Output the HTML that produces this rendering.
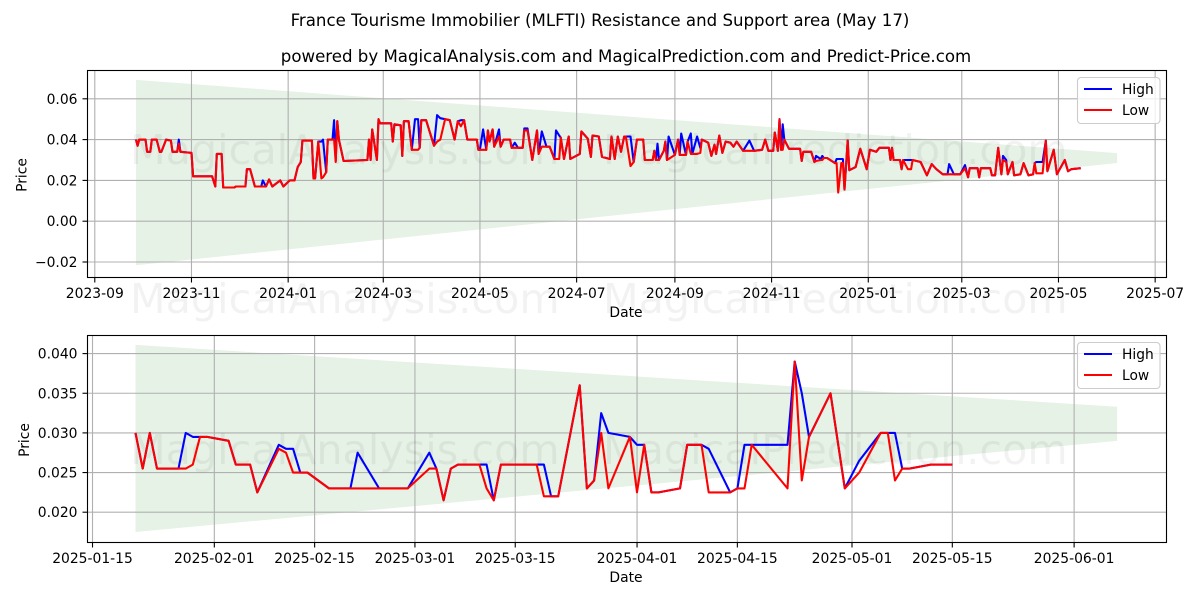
<!DOCTYPE html>
<html>
<head>
<meta charset="utf-8">
<title>France Tourisme Immobilier (MLFTI) Resistance and Support area</title>
<style>
html,body{margin:0;padding:0;background:#fff;}
svg{display:block;font-family:"DejaVu Sans","Liberation Sans",sans-serif;}
</style>
</head>
<body>
<svg id="chart" xmlns="http://www.w3.org/2000/svg" width="1200" height="600" viewBox="0 0 1200 600">
<rect width="1200" height="600" fill="#fff"/>
<g id="top-under"></g>
<g id="bottom-under"></g>
<g font-size="41.3" fill="#000" fill-opacity="0.05">
<text x="130" y="164">MagicalAnalysis.com</text>
<text x="603" y="164">MagicalPrediction.com</text>
<text x="130" y="313">MagicalAnalysis.com</text>
<text x="603" y="313">MagicalPrediction.com</text>
<text x="130" y="464">MagicalAnalysis.com</text>
<text x="603" y="464">MagicalPrediction.com</text>
</g>
<g id="top-marks"></g>
<g id="bottom-marks"></g>
<rect x="87.5" y="70.5" width="1079" height="207" fill="none" stroke="#000" stroke-width="1.1"/>
<rect x="87.5" y="335.5" width="1079" height="207" fill="none" stroke="#000" stroke-width="1.1"/>
<g id="top-ticks"></g>
<g id="bottom-ticks"></g>
<text x="600" y="26" font-size="16.63" text-anchor="middle">France Tourisme Immobilier (MLFTI) Resistance and Support area (May 17)</text>
<text x="626" y="62" font-size="16.63" text-anchor="middle">powered by MagicalAnalysis.com and MagicalPrediction.com and Predict-Price.com</text>
<text x="626" y="317" font-size="13.89" text-anchor="middle">Date</text>
<text x="626" y="582" font-size="13.89" text-anchor="middle">Date</text>
<text transform="translate(26.5,175) rotate(-90)" font-size="13.89" text-anchor="middle">Price</text>
<text transform="translate(29,440) rotate(-90)" font-size="13.89" text-anchor="middle">Price</text>
<g>
<rect x="1077.5" y="77.5" width="82.5" height="46" rx="3.5" fill="#fff" fill-opacity="0.8" stroke="#ccc" stroke-width="1.1"/>
<line x1="1084" x2="1112" y1="89" y2="89" stroke="#0000ff" stroke-width="2.08"/>
<text x="1122" y="94" font-size="13.8">High</text>
<line x1="1084" x2="1112" y1="110" y2="110" stroke="#ff0000" stroke-width="2.08"/>
<text x="1122" y="115" font-size="13.8">Low</text>
</g>
<g>
<rect x="1077.5" y="342.5" width="82.5" height="46" rx="3.5" fill="#fff" fill-opacity="0.8" stroke="#ccc" stroke-width="1.1"/>
<line x1="1084" x2="1112" y1="354" y2="354" stroke="#0000ff" stroke-width="2.08"/>
<text x="1122" y="359" font-size="13.8">High</text>
<line x1="1084" x2="1112" y1="375" y2="375" stroke="#ff0000" stroke-width="2.08"/>
<text x="1122" y="380" font-size="13.8">Low</text>
</g>
</svg>
<script>
/* ---------- top chart data (days after 2023-09-27) ---------- */
const topDays = [
0,1,2,6,7,9,10,13,15,16,19,22,23,26,27,28,35,36,48,50,
51,54,55,62,63,69,70,72,75,79,80,82,84,86,91,93,97,100,102,104,
105,111,112,113,115,117,118,120,121,124,125,126,127,128,131,146,147,148,149,152,
153,154,161,162,163,167,168,169,172,174,176,178,179,180,183,188,190,192,195,198,
201,203,205,207,
209,215,216,217,219,221,222,223,225,226,229,230,232,236,237,239,241,244,245,247,
250,253,254,256,259,261,264,265,267,268,270,273,274,280,281,285,287,288,292,294,
299,300,302,304,306,308,309,312,314,316,320,321,326,327,328,329,330,333,334,335,
336,340,342,343,344,347,348,350,351,354,356,357,361,363,365,366,368,370,372,375,
377,379,383,387,390,395,397,399,402,403,405,
406,407,408,409,412,419,420,421,426,428,429,432,
433,434,436,441,442,443,445,446,447,449,450,454,457,461,463,467,469,475,476,477,
478,482,483,484,487,489,490,495,499,502,505,509,512,513,516,520,523,525,526,531,
532,533,539,540,542,544,546,547,549,550,553,554,558,560,563,566,567,568,572,574,
575,579,581,586,588,590,596];
const topLow = [
.040,.037,.040,.040,.034,.034,.040,.040,.034,.034,.040,.0395,.034,.034,.038,.034,.0335,.022,.022,.017,
.033,.033,.0165,.0165,.017,.017,.0255,.0255,.017,.017,.017,.017,.0205,.017,.020,.017,.020,.020,.0265,.029,
.0395,.0395,.021,.021,.039,.021,.0215,.024,.040,.040,.040,.029,.049,.040,.0295,.030,.040,.030,.045,.030,
.050,.048,.048,.039,.0475,.047,.032,.049,.049,.035,.035,.035,.036,.0495,.0495,.037,.039,.040,.050,.0495,
.040,.049,.0465,.0495,
.040,.040,.035,.035,.035,.035,.0445,.039,.045,.0365,.0415,.0365,.040,.040,.036,.036,.036,.036,.0445,.0445,
.030,.0445,.033,.0365,.0365,.0365,.0305,.0305,.0305,.041,.0305,.0415,.0305,.033,.044,.0405,.0315,.042,.0415,.0315,
.0305,.0415,.0305,.0415,.034,.0415,.0415,.027,.029,.040,.040,.030,.030,.0345,.030,.030,.030,.0345,.039,.030,
.0305,.0325,.040,.0325,.0325,.0325,.039,.033,.033,.033,.0335,.040,.0385,.032,.0375,.033,.042,.0335,.039,.0385,
.0365,.039,.0345,.0345,.0345,.035,.040,.0345,.0345,.0435,.0345,
.050,.035,.035,.040,.0355,.0355,.0295,.034,.034,.029,.0295,.030,
.030,.031,.031,.0285,.0285,.014,.0285,.0285,.0155,.0395,.025,.0265,.0355,.0255,.035,.034,.036,.036,.030,.036,
.030,.030,.0255,.030,.0255,.0255,.030,.029,.0225,.028,.0255,.023,.023,.023,.023,.023,.026,.0215,.026,.026,
.0215,.026,.026,.0225,.0225,.036,.023,.030,.029,.023,.029,.0225,.023,.0285,.0225,.023,.0285,.0235,.0235,.0395,
.0245,.035,.023,.030,.0245,.0255,.026];
const topHigh = [
.040,.037,.040,.040,.034,.034,.040,.040,.034,.034,.040,.0395,.034,.034,.040,.034,.0335,.022,.022,.017,
.033,.033,.0165,.0165,.017,.017,.0255,.0255,.017,.017,.020,.017,.0205,.017,.020,.017,.020,.020,.0265,.029,
.0395,.0395,.021,.021,.039,.039,.040,.024,.040,.040,.0495,.0295,.049,.040,.0295,.030,.040,.030,.045,.030,
.050,.048,.048,.039,.0475,.047,.032,.049,.049,.035,.050,.050,.036,.0495,.0495,.037,.052,.0505,.050,.0495,
.040,.049,.0495,.0495,
.040,.040,.035,.035,.045,.035,.0445,.039,.045,.0365,.045,.0365,.040,.040,.036,.0385,.036,.036,.0455,.0455,
.030,.0445,.033,.044,.0365,.0365,.0305,.0445,.042,.041,.0305,.0415,.0305,.033,.044,.0405,.0315,.042,.0415,.0315,
.0305,.0415,.0305,.0415,.034,.0415,.0415,.0415,.029,.040,.040,.030,.030,.0345,.030,.038,.030,.0345,.039,.030,
.0415,.0325,.040,.0325,.043,.0325,.039,.043,.033,.0415,.036,.040,.0385,.032,.0375,.033,.042,.0335,.039,.0385,
.0365,.039,.0345,.0395,.0345,.035,.040,.0345,.0345,.0435,.0345,
.050,.035,.0475,.040,.0355,.0355,.0295,.034,.034,.029,.032,.0305,
.032,.031,.031,.0285,.0305,.0305,.0305,.0305,.0155,.0395,.025,.0265,.0355,.0255,.035,.034,.036,.036,.030,.036,
.030,.030,.0255,.030,.030,.030,.030,.029,.0225,.028,.0255,.023,.023,.028,.023,.023,.0275,.0215,.026,.026,
.0215,.026,.026,.0225,.0225,.036,.023,.032,.030,.023,.029,.0225,.023,.0285,.0225,.023,.0285,.029,.029,.0395,
.0245,.035,.023,.030,.0245,.0255,.026];
const topBandUpper = [.0693,.0334];
const topBandLower = [-.0216,.0285];
const topBandDays = [0,619];
const topStartDate = "2023-09-27";
const topXTickDates = ["2023-09-01","2023-11-01","2024-01-01","2024-03-01","2024-05-01","2024-07-01","2024-09-01","2024-11-01","2025-01-01","2025-03-01","2025-05-01","2025-07-01"];
const topYTicks = [-.02,0,.02,.04,.06];
const topYLabels = ["\u22120.02","0.00","0.02","0.04","0.06"];

/* ---------- bottom chart data ---------- */
const bottomDates = [
"2025-01-21","2025-01-22","2025-01-23","2025-01-24","2025-01-27","2025-01-28","2025-01-29","2025-01-30","2025-01-31",
"2025-02-03","2025-02-04","2025-02-06","2025-02-07","2025-02-10","2025-02-11","2025-02-12","2025-02-13","2025-02-14",
"2025-02-17","2025-02-20","2025-02-21","2025-02-24","2025-02-28",
"2025-03-03","2025-03-04","2025-03-05","2025-03-06","2025-03-07","2025-03-10","2025-03-11","2025-03-12","2025-03-13",
"2025-03-18","2025-03-19","2025-03-20","2025-03-21","2025-03-24","2025-03-25","2025-03-26","2025-03-27","2025-03-28","2025-03-31",
"2025-04-01","2025-04-02","2025-04-03","2025-04-04","2025-04-07","2025-04-08","2025-04-09","2025-04-10","2025-04-11",
"2025-04-14","2025-04-15","2025-04-16","2025-04-17","2025-04-22","2025-04-23","2025-04-24","2025-04-25","2025-04-28","2025-04-30",
"2025-05-02","2025-05-05","2025-05-06","2025-05-07","2025-05-08","2025-05-09","2025-05-12","2025-05-13","2025-05-14","2025-05-15"];
const bottomHigh = [
.030,.0255,.030,.0255,.0255,.030,.0295,.0295,.0295,
.029,.026,.026,.0225,.0285,.028,.028,.025,.025,
.023,.023,.0275,.023,.023,
.0275,.0255,.0215,.0255,.026,.026,.026,.0215,.026,
.026,.026,.022,.022,.036,.023,.024,.0325,.030,.0295,
.0285,.0285,.0225,.0225,.023,.0285,.0285,.0285,.028,
.0225,.023,.0285,.0285,.0285,.039,.035,.0295,.035,.023,
.0265,.030,.030,.030,.0255,.0255,.026,.026,.026,.026];
const bottomLow = [
.030,.0255,.030,.0255,.0255,.0255,.026,.0295,.0295,
.029,.026,.026,.0225,.028,.0275,.025,.025,.025,
.023,.023,.023,.023,.023,
.0255,.0255,.0215,.0255,.026,.026,.023,.0215,.026,
.026,.022,.022,.022,.036,.023,.024,.030,.023,.0295,
.0225,.0285,.0225,.0225,.023,.0285,.0285,.0285,.0225,
.0225,.023,.023,.0285,.023,.039,.024,.0295,.035,.023,
.025,.030,.030,.024,.0255,.0255,.026,.026,.026,.026];
const bottomBandDates = ["2025-01-21","2025-06-07"];
const bottomBandUpper = [.0411,.0333];
const bottomBandLower = [.0175,.0290];
const bottomXTickDates = ["2025-01-15","2025-02-01","2025-02-15","2025-03-01","2025-03-15","2025-04-01","2025-04-15","2025-05-01","2025-05-15","2025-06-01"];
const bottomYTicks = [.02,.025,.03,.035,.04];
const bottomYLabels = ["0.020","0.025","0.030","0.035","0.040"];

/* ---------- axis functions ---------- */
const NS = "http://www.w3.org/2000/svg";
const dayMs = 86400000;
const dayNum = s => Date.parse(s + "T00:00:00Z") / dayMs;
const topStart = dayNum(topStartDate);
const bottomStart = dayNum(bottomBandDates[0]);
const xTop = d => 136 + 1.585 * d;
const yTop = v => 221.2 - 2040 * v;
const xBottom = s => 135.5 + 7.165 * (dayNum(s) - bottomStart);
const yBottom = v => 512.2 - 7930 * (v - .02);

function mk(tag, attrs, parent) {
  const el = document.createElementNS(NS, tag);
  for (const k in attrs) el.setAttribute(k, attrs[k]);
  parent.appendChild(el);
  return el;
}
function drawAxes(under, ticks, prefix, xs, ys, yLabels, xLabels, plotTop, plotBottom) {
  xs.forEach((x, i) => {
    if (x > 87 && x < 1166) {
      const g = mk("line", {x1: x, x2: x, y1: plotTop, y2: plotBottom, stroke: "#b0b0b0", "stroke-width": 1.1}, under);
      
      
    }
    const t = mk("line", {x1: x, x2: x, y1: plotBottom, y2: plotBottom + 5, stroke: "#000", "stroke-width": 1.1}, ticks);
    
    
    const l = mk("text", {x: x, y: plotBottom + 20.5, "font-size": 13.89, "text-anchor": "middle"}, ticks);
    
    
    l.textContent = xLabels[i];
  });
  ys.forEach((y, i) => {
    const g = mk("line", {x1: 87.5, x2: 1166.5, y1: y, y2: y, stroke: "#b0b0b0", "stroke-width": 1.1}, under);
    
    
    const t = mk("line", {x1: 82.5, x2: 87.5, y1: y, y2: y, stroke: "#000", "stroke-width": 1.1}, ticks);
    
    
    const l = mk("text", {x: 77.5, y: y + 5, "font-size": 13.89, "text-anchor": "end"}, ticks);
    
    
    l.textContent = yLabels[i];
  });
}
function pathOf(xs, ys) {
  return xs.map((x, i) => (i ? "L" : "M") + x.toFixed(1) + " " + ys[i].toFixed(1)).join("");
}
function band(parent, name, x0, x1, y0u, y1u, y1l, y0l) {
  const p = mk("polygon", {points: `${x0},${y0u} ${x1},${y1u} ${x1},${y1l} ${x0},${y0l}`, fill: "#008000", "fill-opacity": 0.1}, parent);
  
  
}
function line(parent, name, xs, ys, color) {
  const p = mk("path", {d: pathOf(xs, ys), fill: "none", stroke: color, "stroke-width": 2.08, "stroke-linejoin": "round", "stroke-linecap": "butt"}, parent);
  
  
}

/* ---------- draw top chart ---------- */
const topUnder = document.getElementById("top-under");
const topMarks = document.getElementById("top-marks");
band(topUnder, "top-support-resistance-band", xTop(topBandDays[0]), xTop(topBandDays[1]),
  yTop(topBandUpper[0]), yTop(topBandUpper[1]), yTop(topBandLower[1]), yTop(topBandLower[0]));
drawAxes(topUnder, document.getElementById("top-ticks"), "top",
  topXTickDates.map(s => xTop(dayNum(s) - topStart)), topYTicks.map(yTop), topYLabels,
  topXTickDates.map(s => s.slice(0, 7)), 70.5, 277.5);
line(topMarks, "top-high-line", topDays.map(xTop), topHigh.map(yTop), "#0000ff");
line(topMarks, "top-low-line", topDays.map(xTop), topLow.map(yTop), "#ff0000");

/* ---------- draw bottom chart ---------- */
const bottomUnder = document.getElementById("bottom-under");
const bottomMarks = document.getElementById("bottom-marks");
band(bottomUnder, "bottom-support-resistance-band", xBottom(bottomBandDates[0]), xBottom(bottomBandDates[1]),
  yBottom(bottomBandUpper[0]), yBottom(bottomBandUpper[1]), yBottom(bottomBandLower[1]), yBottom(bottomBandLower[0]));
drawAxes(bottomUnder, document.getElementById("bottom-ticks"), "bottom",
  bottomXTickDates.map(xBottom), bottomYTicks.map(yBottom), bottomYLabels,
  bottomXTickDates, 335.5, 542.5);
line(bottomMarks, "bottom-high-line", bottomDates.map(xBottom), bottomHigh.map(yBottom), "#0000ff");
line(bottomMarks, "bottom-low-line", bottomDates.map(xBottom), bottomLow.map(yBottom), "#ff0000");
</script>
</body>
</html>
